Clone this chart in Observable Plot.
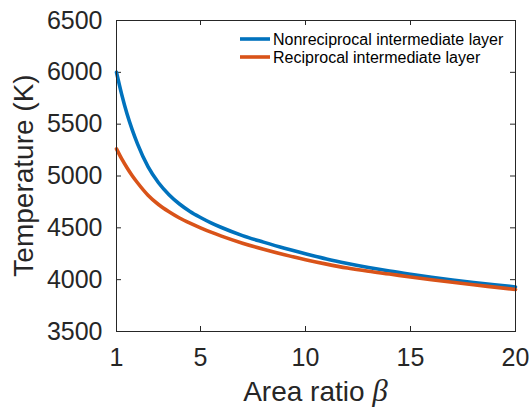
<!DOCTYPE html>
<html>
<head>
<meta charset="utf-8">
<script src="https://cdn.jsdelivr.net/npm/d3@7"></script>
<script src="https://cdn.jsdelivr.net/npm/@observablehq/plot@0.6"></script>
<style>
  html, body { margin: 0; padding: 0; background: #fff; }
  #chart svg { display: block; }
</style>
</head>
<body>
<div id="chart"></div>
<script>
const beta = [1, 1.25, 1.5, 1.75, 2, 2.5, 3, 3.5, 4, 4.5, 5, 5.5, 6, 7, 8, 9, 10, 11, 12, 13, 14, 15, 16, 17, 18, 19, 20];
const nonreciprocal = [6000, 5785, 5600, 5445, 5310, 5090, 4935, 4820, 4730, 4658, 4600, 4548, 4503, 4425, 4362, 4303, 4250, 4200, 4157, 4118, 4083, 4052, 4023, 3997, 3973, 3951, 3930];
const reciprocal = [5262, 5165, 5080, 5003, 4935, 4815, 4725, 4655, 4595, 4545, 4500, 4458, 4420, 4352, 4293, 4240, 4193, 4150, 4112, 4081, 4054, 4026, 4000, 3975, 3951, 3928, 3905];
const seriesNames = ["Nonreciprocal intermediate layer", "Reciprocal intermediate layer"];
const seriesColors = ["#0072BD", "#D95319"];
const xTicks = [1, 5, 10, 15, 20];
const yTicks = [3500, 4000, 4500, 5000, 5500, 6000, 6500];
const xLabel = "Area ratio ";
const xSymbol = "β";
const yLabel = "Temperature (K)";

const rows = [];
beta.forEach((b, i) => {
  rows.push({beta: b, T: nonreciprocal[i], series: seriesNames[0]});
  rows.push({beta: b, T: reciprocal[i], series: seriesNames[1]});
});

const W = 529, H = 407;
const mL = 116, mR = 14, mT = 20, mB = 76;
const pw = W - mL - mR, ph = H - mT - mB;
const tick = 5;
const ink = "#262626";

const chart = Plot.plot({
  width: W, height: H,
  marginLeft: mL, marginRight: mR, marginTop: mT, marginBottom: mB,
  style: {fontFamily: "'Liberation Sans', Arial, Helvetica, sans-serif", color: ink, background: "#fff"},
  x: {domain: [1, 20]},
  y: {domain: [3500, 6500]},
  color: {domain: seriesNames, range: seriesColors},
  marks: [
    Plot.axisX(xTicks, {tickSize: 0, tickPadding: 17, fontSize: 25, label: null, fill: ink, tickFormat: d3.format("d")}),
    Plot.axisY(yTicks, {tickSize: 0, tickPadding: 14, fontSize: 25, label: null, fill: ink, tickFormat: d3.format("d")}),
    Plot.ruleX(xTicks, {x: d => d, insetTop: ph - tick, stroke: ink}),
    Plot.ruleX(xTicks, {x: d => d, insetBottom: ph - tick, stroke: ink}),
    Plot.ruleY(yTicks, {y: d => d, insetRight: pw - tick, stroke: ink}),
    Plot.ruleY(yTicks, {y: d => d, insetLeft: pw - tick, stroke: ink}),
    Plot.line(rows, {x: "beta", y: "T", z: "series", stroke: "series", strokeWidth: 3.6, curve: "monotone-x"}),
    Plot.frame({stroke: ink, strokeWidth: 1})
  ]
});
document.getElementById("chart").appendChild(chart);

const svg = d3.select(chart);
// x-axis title with italic beta
const xt = svg.append("text")
  .attr("x", mL + pw / 2).attr("y", 401)
  .attr("text-anchor", "middle")
  .attr("fill", ink)
  .style("font-family", "'Liberation Sans', Arial, sans-serif")
  .style("font-size", "28px");
xt.append("tspan").text(xLabel);
xt.append("tspan").text(xSymbol)
  .style("font-family", "'Liberation Serif', 'Times New Roman', serif")
  .style("font-style", "italic")
  .style("font-size", "31px");

// y-axis title
svg.append("text")
  .attr("transform", `translate(33,${mT + ph / 2}) rotate(-90)`)
  .attr("text-anchor", "middle")
  .attr("fill", ink)
  .style("font-family", "'Liberation Sans', Arial, sans-serif")
  .style("font-size", "28px")
  .text(yLabel);

// legend
const lg = svg.append("g")
  .style("font-family", "'Liberation Sans', Arial, sans-serif")
  .style("font-size", "16px")
  .attr("text-anchor", "start");
seriesNames.forEach((name, i) => {
  const cy = 39 + i * 18;
  lg.append("line").attr("x1", 240).attr("x2", 270).attr("y1", cy).attr("y2", cy)
    .attr("stroke", seriesColors[i]).attr("stroke-width", 3.6);
  lg.append("text").attr("x", 273).attr("y", cy).attr("dy", "0.35em")
    .attr("text-anchor", "start").attr("fill", "#000").text(name);
});
</script>
</body>
</html>
